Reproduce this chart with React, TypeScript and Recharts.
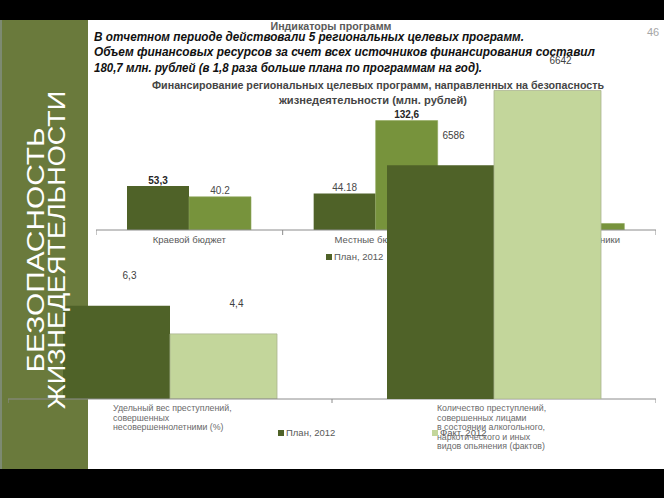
import React from 'react';
import { BarChart, Bar, XAxis, YAxis, Legend, LabelList } from 'recharts';

// ---------- data ----------
const seriesNames = ['План, 2012', 'Факт, 2012'];

const fundCategories = ['Краевой бюджет', 'Местные бюджеты', 'Внебюджетные источники'];
const fundPlan = [53.3, 44.18, 2.9];
const fundFact = [40.2, 132.6, 7.9];
const fundPlanLabels = ['53,3', '44.18', '2,9'];
const fundFactLabels = ['40.2', '132,6', '7,9'];

const indCategories = [
  'Удельный вес преступлений, совершенных несовершеннолетними (%)',
  'Количество преступлений, совершенных лицами в состоянии алкогольного, наркотического и иных видов опьянения (фактов)',
];
const indCategoryLines = [
  ['Удельный вес преступлений,', 'совершенных', 'несовершеннолетними (%)'],
  ['Количество преступлений,', 'совершенных лицами', 'в состоянии алкогольного,', 'наркотического и иных', 'видов опьянения (фактов)'],
];
const indPlan = [6.3, 6586];
const indFact = [4.4, 6642];
const indPlanLabels = ['6,3', '6586'];
const indFactLabels = ['4,4', '6642'];

const headerTitle = 'Индикаторы программ';
const introLines = [
  'В отчетном периоде действовали 5 региональных целевых программ.',
  'Объем финансовых ресурсов за счет всех источников финансирования  составил',
  '180,7 млн. рублей (в 1,8 раза больше плана по программам на год).',
];
const fundTitleLines = [
  'Финансирование региональных целевых программ, направленных на безопасность',
  'жизнедеятельности (млн. рублей)',
];
const sideTitleLines = ['БЕЗОПАСНОСТЬ', 'ЖИЗНЕДЕЯТЕЛЬНОСТИ'];
const pageNumber = '46';

// ---------- derived tables ----------
const fundData = fundCategories.map((name, i) => ({
  name,
  plan: fundPlan[i],
  fact: fundFact[i],
  planLabel: fundPlanLabels[i],
  factLabel: fundFactLabels[i],
}));

const indData = (keep: number) =>
  indCategories.map((name, i) => ({
    name,
    plan: i === keep ? indPlan[i] : null,
    fact: i === keep ? indFact[i] : null,
    planLabel: i === keep ? indPlanLabels[i] : null,
    factLabel: i === keep ? indFactLabels[i] : null,
  }));

// ---------- style ----------
const COLORS = {
  dark: '#4f6228',
  mid: '#77933c',
  light: '#c3d69b',
  panel: '#6a7a3c',
  axis: '#8c8c8c',
  text: '#595959',
};
const SANS = '"Liberation Sans", Arial, sans-serif';

const F_LEFT = 96, F_W = 560, F_PLOT_H = 132, F_AXIS_H = 40, F_AXIS_Y = 230;
const F_BAND = F_W / fundCategories.length;
const I_LEFT = 8, I_W = 648, I_PLOT_H = 370, I_AXIS_H = 60, I_AXIS_Y = 399;
const I_BAND = I_W / indCategories.length;

const FundTick = (props: any) => {
  const { x, y, payload } = props;
  const idx = payload?.index ?? props.index ?? 0;
  const half = F_BAND / 2;
  return (
    <g>
      <line x1={x - half} x2={x - half} y1={y} y2={y + 5} stroke={COLORS.axis} />
      {idx === fundCategories.length - 1 && (
        <line x1={x + half} x2={x + half} y1={y} y2={y + 5} stroke={COLORS.axis} />
      )}
      <text x={x} y={y + 12.5} textAnchor="middle" fontSize={9.5} fontFamily={SANS} fill={COLORS.text}>
        {payload.value}
      </text>
    </g>
  );
};

const IndTick = (props: any) => {
  const { x, y, payload } = props;
  const idx = payload?.index ?? props.index ?? 0;
  const half = I_BAND / 2;
  const lines = indCategoryLines[idx] || [];
  return (
    <g>
      <line x1={x - half} x2={x - half} y1={y} y2={y + 4} stroke={COLORS.axis} />
      {idx === indCategories.length - 1 && (
        <line x1={x + half} x2={x + half} y1={y} y2={y + 4} stroke={COLORS.axis} />
      )}
      <text x={x - 57} y={y + 12} fontSize={8.8} fontFamily={SANS} fill="#6a6a6a">
        {lines.map((l, i) => (
          <tspan key={i} x={x - 57} dy={i === 0 ? 0 : 9.5}>
            {l}
          </tspan>
        ))}
      </text>
    </g>
  );
};

const FundLabel = (props: any) => {
  const { x, y, width, value } = props;
  if (value == null || value === '') return null;
  const strong = String(value).includes(',');
  return (
    <text
      x={x + width / 2}
      y={y - 2.5}
      textAnchor="middle"
      fontSize={10}
      fontFamily={SANS}
      fontWeight={strong ? 700 : 400}
      fill={strong ? '#262626' : '#4a4a4a'}
    >
      {value}
    </text>
  );
};

const IndLabel = (props: any) => {
  const { x, y, width, value } = props;
  if (value == null || value === '') return null;
  return (
    <text x={x + width / 2 + 13} y={y - 26.5} textAnchor="middle" fontSize={10} fontFamily={SANS} fill="#404040">
      {value}
    </text>
  );
};

const makeLegend = (itemWidth: number) => (props: any) => {
  const payload = props.payload || [];
  return (
    <div style={{ display: 'flex', fontFamily: SANS, fontSize: 9.5, color: COLORS.text, lineHeight: '12px' }}>
      {payload.map((p: any, i: number) => (
        <div key={i} style={{ display: 'flex', alignItems: 'center', width: itemWidth, whiteSpace: 'nowrap' }}>
          <span style={{ display: 'inline-block', width: 6, height: 6, background: p.color, marginRight: 2 }} />
          <span>{p.value}</span>
        </div>
      ))}
    </div>
  );
};

const FundChart = () => (
  <div style={{ position: 'absolute', left: F_LEFT, top: F_AXIS_Y - F_PLOT_H }}>
    <BarChart
      width={F_W}
      height={F_PLOT_H + F_AXIS_H}
      data={fundData}
      margin={{ top: 0, right: 0, bottom: 0, left: 0 }}
      barGap={0}
    >
      <XAxis
        dataKey="name"
        height={F_AXIS_H}
        interval={0}
        tickLine={false}
        tickSize={0}
        tickMargin={0}
        axisLine={{ stroke: COLORS.axis }}
        tick={<FundTick />}
      />
      <YAxis hide domain={[0, 160]} allowDataOverflow />
      <Legend
        layout="horizontal"
        verticalAlign="middle"
        align="center"
        content={makeLegend(61)}
        wrapperStyle={{ position: 'absolute', left: 326 - F_LEFT, top: 251 - (F_AXIS_Y - F_PLOT_H), width: 200, height: 12 }}
      />
      <Bar dataKey="plan" name={seriesNames[0]} fill={COLORS.dark} barSize={62} isAnimationActive={false}>
        <LabelList dataKey="planLabel" content={<FundLabel />} />
      </Bar>
      <Bar dataKey="fact" name={seriesNames[1]} fill={COLORS.mid} stroke="#8fa65a" strokeWidth={0.6} barSize={62} isAnimationActive={false}>
        <LabelList dataKey="factLabel" content={<FundLabel />} />
      </Bar>
    </BarChart>
  </div>
);

const IndChart = ({ keep, domain, showAxis }: { keep: number; domain: [number, number]; showAxis: boolean }) => (
  <div style={{ position: 'absolute', left: I_LEFT, top: I_AXIS_Y - I_PLOT_H }}>
    <BarChart
      width={I_W}
      height={I_PLOT_H + I_AXIS_H}
      data={indData(keep)}
      margin={{ top: 0, right: 0, bottom: 0, left: 0 }}
      barGap={0}
    >
      <XAxis
        dataKey="name"
        height={I_AXIS_H}
        interval={0}
        tickLine={false}
        tickSize={0}
        tickMargin={0}
        axisLine={showAxis ? { stroke: COLORS.axis } : false}
        tick={showAxis ? <IndTick /> : false}
      />
      <YAxis hide type="number" domain={domain} allowDataOverflow />
      {showAxis && (
        <Legend
          layout="horizontal"
          verticalAlign="middle"
          align="center"
          content={makeLegend(154)}
          wrapperStyle={{ position: 'absolute', left: 278 - I_LEFT, top: 427 - (I_AXIS_Y - I_PLOT_H), width: 320, height: 12 }}
        />
      )}
      <Bar dataKey="plan" name={seriesNames[0]} fill={COLORS.dark} barSize={107} isAnimationActive={false}>
        <LabelList dataKey="planLabel" content={<IndLabel />} />
      </Bar>
      <Bar dataKey="fact" name={seriesNames[1]} fill={COLORS.light} stroke="#a9b48f" strokeWidth={0.8} barSize={107} isAnimationActive={false}>
        <LabelList dataKey="factLabel" content={<IndLabel />} />
      </Bar>
    </BarChart>
  </div>
);

export default function App() {
  return (
    <div style={{ position: 'absolute', left: 0, top: 0, width: 664, height: 498, background: '#000', overflow: 'hidden' }}>
      <svg width={664} height={498} style={{ position: 'absolute', left: 0, top: 0 }}>
        <rect x={88} y={20} width={576} height={449} fill="#ffffff" />
        <rect x={0} y={20} width={88} height={449} fill={COLORS.panel} />
        <rect x={0} y={20} width={2} height={449} fill="#7d8a72" />
      </svg>

      <FundChart />
      <IndChart keep={0} domain={[0, 25]} showAxis={true} />
      <IndChart keep={1} domain={[6411, 6688]} showAxis={false} />

      <svg width={664} height={498} style={{ position: 'absolute', left: 0, top: 0, pointerEvents: 'none' }}>
        <text x={331} y={30} textAnchor="middle" fontFamily={SANS} fontSize={10.5} fontWeight={700} fill="#5a5a5a" textLength={121} lengthAdjust="spacingAndGlyphs">
          {headerTitle}
        </text>
        <text x={653} y={36} textAnchor="middle" fontFamily={SANS} fontSize={11} fill="#a6a6a6">
          {pageNumber}
        </text>
        {introLines.map((l, i) => (
          <text
            key={i}
            x={94}
            y={40.5 + i * 15.5}
            fontFamily={SANS}
            fontSize={13}
            fontWeight={700}
            fontStyle="italic"
            fill="#111111"
            textLength={[430, 501, 388][i]}
            lengthAdjust="spacingAndGlyphs"
          >
            {l}
          </text>
        ))}
        {fundTitleLines.map((l, i) => (
          <text
            key={i}
            x={i === 0 ? 378 : 373}
            y={89 + i * 14.5}
            textAnchor="middle"
            fontFamily={SANS}
            fontSize={11.5}
            fontWeight={700}
            fill="#454545"
            textLength={[452, 188][i]}
            lengthAdjust="spacingAndGlyphs"
          >
            {l}
          </text>
        ))}
        {sideTitleLines.map((l, i) => {
          const cx = [35, 56][i];
          const cy = 250;
          return (
            <text
              key={i}
              x={cx}
              y={cy}
              transform={`rotate(-90 ${cx} ${cy})`}
              dy={8.5}
              textAnchor="middle"
              fontFamily={SANS}
              fontSize={24}
              fill="#ffffff"
              textLength={[245, 318][i]}
              lengthAdjust="spacingAndGlyphs"
            >
              {l}
            </text>
          );
        })}
      </svg>
    </div>
  );
}
